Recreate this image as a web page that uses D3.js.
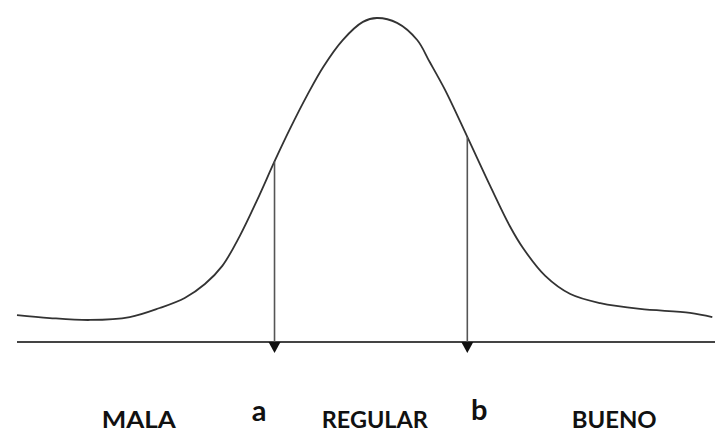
<!DOCTYPE html>
<html>
<head>
<meta charset="utf-8">
<script src="https://cdn.jsdelivr.net/npm/d3@7"></script>
<style>
html,body{margin:0;padding:0;background:#fff;}
svg{display:block;}
</style>
</head>
<body>
<svg id="chart" width="715" height="433"></svg>
<script>
// Curve samples (position 0-100, relative height 0-100)
const curveX = [0.0, 4.7, 10.5, 16.2, 20.5, 24.1, 27.0, 29.5, 32.0, 34.5, 37.1, 39.2, 41.7, 44.0, 46.8, 49.7, 51.7, 54.6, 57.5, 59.3, 61.5, 64.7, 68.0, 70.8, 72.7, 75.9, 79.5, 83.8, 89.5, 96.7, 99.9];
const curveY = [8.3, 7.4, 6.8, 7.7, 10.5, 13.6, 17.9, 23.5, 32.7, 43.8, 56.2, 65.7, 76.2, 84.9, 93.2, 98.8, 100, 98.5, 93.2, 86.4, 77.8, 63.3, 48.1, 35.8, 29.0, 20.4, 14.8, 12.0, 10.2, 9.0, 7.7];

// Cut points
const cutNames = ["a", "b"];
const cutX = [37.0, 64.7];
const cutLabelX = [34.8, 66.4];

// Category labels
const categories = ["MALA", "REGULAR", "BUENO"];
const categoryX = [17.5, 51.4, 85.8];
const categoryWidth = [74, 106, 85];

const svg = d3.select("#chart");
const x = d3.scaleLinear().domain([0, 100]).range([17, 713]);
const y = d3.scaleLinear().domain([0, 100]).range([342, 18]);

const pts = curveX.map((v, i) => [v, curveY[i]]);
const interp = xv => {
  for (let i = 0; i < pts.length - 1; i++) {
    if (xv >= pts[i][0] && xv <= pts[i + 1][0]) {
      const t = (xv - pts[i][0]) / (pts[i + 1][0] - pts[i][0]);
      return pts[i][1] + t * (pts[i + 1][1] - pts[i][1]);
    }
  }
  return 0;
};

// Baseline
svg.append("line")
  .attr("x1", x(0)).attr("x2", 715)
  .attr("y1", y(0)).attr("y2", y(0))
  .attr("stroke", "#444").attr("stroke-width", 2.2);

// Curve
svg.append("path")
  .datum(pts)
  .attr("d", d3.line().x(d => x(d[0])).y(d => y(d[1])).curve(d3.curveCatmullRom.alpha(0.5)))
  .attr("fill", "none")
  .attr("stroke", "#333")
  .attr("stroke-width", 1.8);

// Cut lines with arrowheads
cutX.forEach((cx, i) => {
  const px = x(cx);
  svg.append("line")
    .attr("x1", px).attr("x2", px)
    .attr("y1", y(interp(cx))).attr("y2", y(0))
    .attr("stroke", "#555").attr("stroke-width", 1.6);
  svg.append("path")
    .attr("d", `M${px - 6},${y(0)} L${px + 6},${y(0)} L${px},${y(0) + 11} Z`)
    .attr("fill", "#111");
  svg.append("text")
    .attr("x", x(cutLabelX[i]))
    .attr("y", i === 0 ? 421 : 420)
    .attr("text-anchor", "middle")
    .attr("font-family", "Lato, 'Open Sans', sans-serif")
    .attr("font-weight", "bold")
    .attr("font-size", 29)
    .attr("fill", "#111")
    .text(cutNames[i]);
});

// Category labels
categories.forEach((c, i) => {
  svg.append("text")
    .attr("x", x(categoryX[i]))
    .attr("y", 428)
    .attr("text-anchor", "middle")
    .attr("font-family", "Lato, 'Open Sans', sans-serif")
    .attr("font-weight", "bold")
    .attr("font-size", 22)
    .attr("fill", "#111")
    .attr("textLength", categoryWidth[i])
    .attr("lengthAdjust", "spacingAndGlyphs")
    .text(c);
});
</script>
</body>
</html>
